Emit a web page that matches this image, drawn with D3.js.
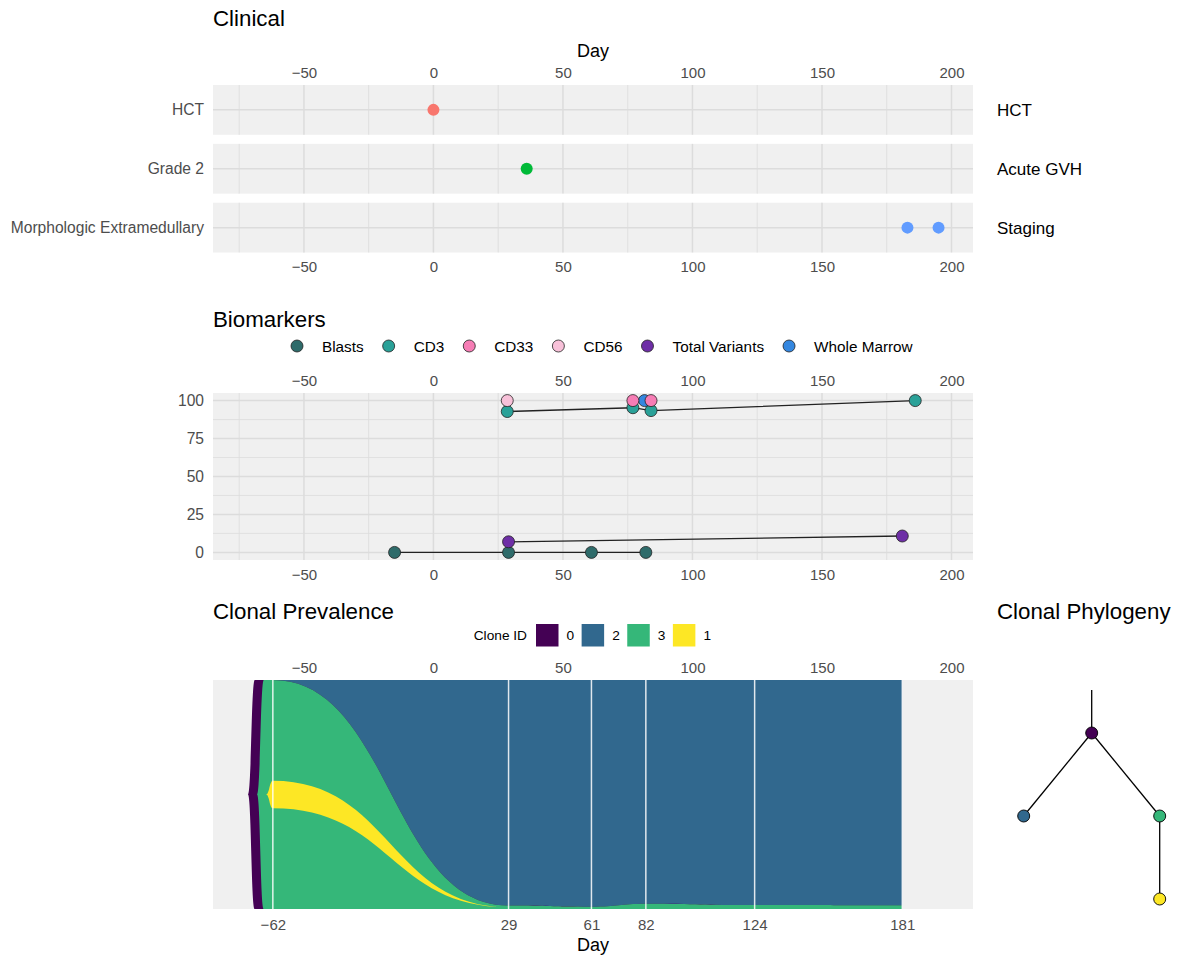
<!DOCTYPE html>
<html lang="en">
<head>
  <meta charset="UTF-8">
  <title>Patient timeline</title>
  <script src="https://d3js.org/d3.v7.min.js"></script>
  <style>
    body {
      margin: 0;
      background: white;
    }

    svg {
      width: 1177px;
      height: 957px;
      display: block;
    }
  </style>
</head>
<body>
  <svg></svg>

  <script>
    // ---- data ----
    const dayTicks = [-50, 0, 50, 100, 150, 200];

    const clinicalTracks = [`HCT`, `Acute GVH`, `Staging`];
    const clinicalEvents = [`HCT`, `Grade 2`, `Morphologic Extramedullary`];
    const clinicalDays = [[0], [36], [183, 195]];

    const markerNames = [`Blasts`, `CD3`, `CD33`, `CD56`, `Total Variants`, `Whole Marrow`];
    // [day, value]
    const blasts = [[-15, 0], [29, 0], [61, 0], [82, 0]];
    const cd3 = [[28.5, 92.8], [77, 95.3], [84, 93.4], [186, 100]];
    const cd33 = [[77, 100], [84, 100]];
    const cd56 = [[28.5, 100]];
    const totalVariants = [[29, 7], [181, 10.8]];
    const wholeMarrow = [[81.5, 100]];
    const markerTicks = [0, 25, 50, 75, 100];

    const sampleDays = [-62, 29, 61, 82, 124, 181];
    const cloneIds = [`0`, `2`, `3`, `1`];
    const cloneParents = [null, `0`, `0`, `3`];
    // own (non-descendant) fraction of each clone per sample
    const clone0 = [0, 0, 0, 0, 0, 0];
    const clone2 = [0, 0.985, 0.99, 0.977, 0.983, 0.984];
    const clone3 = [0.88, 0.015, 0.01, 0.023, 0.017, 0.016];
    const clone1 = [0.12, 0, 0, 0, 0, 0];

    // ---- styles ----
    const font = `"Liberation Sans", Arial, Helvetica, sans-serif`;
    const panelFill = `#F0F0F0`;
    const gridColor = `#DCDCDC`;
    const tickColor = `#4D4D4D`;
    const clinicalColors = [`#F8766D`, `#00BA38`, `#619CFF`];
    const markerColors = [`#2E6B6A`, `#2AA198`, `#F67DB5`, `#F8C1D9`, `#6E2FA6`, `#3487E0`];
    const cloneColors = {0: `#440154`, 2: `#31688E`, 3: `#35B779`, 1: `#FDE725`};

    const svg = d3.select(`svg`).attr(`font-family`, font);

    const x = d3.scaleLinear()
      .domain([-85.1, 208.3])
      .range([213, 973]);
    const minorDays = d3.pairs(dayTicks).map(p => (p[0] + p[1]) / 2).concat([-75]);

    const styleAxis = (g, size = 15) => {
      g.select(`.domain`).remove();
      g.attr(`font-family`, font).attr(`font-size`, size);
      g.selectAll(`text`).attr(`fill`, tickColor);
    };

    const drawPanel = (top, bottom, grid = true) => {
      svg.append(`rect`)
        .attr(`x`, x.range()[0])
        .attr(`y`, top)
        .attr(`width`, x.range()[1] - x.range()[0])
        .attr(`height`, bottom - top)
        .attr(`fill`, panelFill);
      if (!grid) return;
      svg.append(`g`).selectAll(`line`)
        .data(minorDays)
        .enter()
        .append(`line`)
        .attr(`x1`, d => x(d)).attr(`x2`, d => x(d))
        .attr(`y1`, top).attr(`y2`, bottom)
        .attr(`stroke`, gridColor)
        .attr(`stroke-width`, 0.8);
      svg.append(`g`).selectAll(`line`)
        .data(dayTicks)
        .enter()
        .append(`line`)
        .attr(`x1`, d => x(d)).attr(`x2`, d => x(d))
        .attr(`y1`, top).attr(`y2`, bottom)
        .attr(`stroke`, gridColor)
        .attr(`stroke-width`, 1.5);
    };

    const title = (text, tx, ty) => svg.append(`text`)
      .attr(`x`, tx).attr(`y`, ty)
      .attr(`font-size`, 22.3)
      .attr(`fill`, `black`)
      .text(text);

    // ---- Clinical ----
    title(`Clinical`, 213, 26);
    svg.append(`text`)
      .attr(`x`, (x.range()[0] + x.range()[1]) / 2)
      .attr(`y`, 56.5)
      .attr(`text-anchor`, `middle`)
      .attr(`font-size`, 18)
      .text(`Day`);

    const band = d3.scaleBand()
      .domain(clinicalTracks)
      .range([85, 252.5])
      .paddingInner(0.155);

    clinicalTracks.forEach((track, i) => {
      const top = band(track);
      const bottom = top + band.bandwidth();
      const mid = top + band.bandwidth() / 2;
      drawPanel(top, bottom);
      svg.append(`line`)
        .attr(`x1`, x.range()[0]).attr(`x2`, x.range()[1])
        .attr(`y1`, mid).attr(`y2`, mid)
        .attr(`stroke`, gridColor)
        .attr(`stroke-width`, 1.5);
      svg.append(`g`).selectAll(`circle`)
        .data(clinicalDays[i])
        .enter()
        .append(`circle`)
        .attr(`cx`, d => x(d))
        .attr(`cy`, mid)
        .attr(`r`, 6)
        .attr(`fill`, clinicalColors[i]);
      svg.append(`text`)
        .attr(`x`, 997)
        .attr(`y`, mid)
        .attr(`dy`, `0.36em`)
        .attr(`font-size`, 17)
        .text(track);
    });

    svg.append(`g`)
      .attr(`transform`, `translate(0, 85)`)
      .call(d3.axisTop(x).tickValues(dayTicks).tickSize(0).tickPadding(7))
      .call(styleAxis);
    svg.append(`g`)
      .attr(`transform`, `translate(0, 252.5)`)
      .call(d3.axisBottom(x).tickValues(dayTicks).tickSize(0).tickPadding(9))
      .call(styleAxis);
    svg.append(`g`)
      .attr(`transform`, `translate(213, 0)`)
      .call(d3.axisLeft(band).tickSize(0).tickPadding(9).tickFormat((d, i) => clinicalEvents[i]))
      .call(styleAxis, 15.6);

    // ---- Biomarkers ----
    title(`Biomarkers`, 213, 327);

    const yB = d3.scaleLinear()
      .domain([-5, 105])
      .range([560, 393]);

    drawPanel(393, 560);
    svg.append(`g`).selectAll(`line`)
      .data([12.5, 37.5, 62.5, 87.5])
      .enter()
      .append(`line`)
      .attr(`x1`, x.range()[0]).attr(`x2`, x.range()[1])
      .attr(`y1`, d => yB(d)).attr(`y2`, d => yB(d))
      .attr(`stroke`, gridColor)
      .attr(`stroke-width`, 0.8);
    svg.append(`g`).selectAll(`line`)
      .data(markerTicks)
      .enter()
      .append(`line`)
      .attr(`x1`, x.range()[0]).attr(`x2`, x.range()[1])
      .attr(`y1`, d => yB(d)).attr(`y2`, d => yB(d))
      .attr(`stroke`, gridColor)
      .attr(`stroke-width`, 1.5);

    const markerSeries = [blasts, cd3, cd33, cd56, totalVariants, wholeMarrow];
    const line = d3.line()
      .x(d => x(d[0]))
      .y(d => yB(d[1]));

    svg.append(`g`).selectAll(`path`)
      .data(markerSeries.filter(s => s.length > 1))
      .enter()
      .append(`path`)
      .attr(`d`, line)
      .attr(`fill`, `none`)
      .attr(`stroke`, `#222`)
      .attr(`stroke-width`, 1.3);

    const drawOrder = [0, 1, 5, 2, 3, 4];
    drawOrder.forEach(k => {
      svg.append(`g`).selectAll(`circle`)
        .data(markerSeries[k])
        .enter()
        .append(`circle`)
        .attr(`cx`, d => x(d[0]))
        .attr(`cy`, d => yB(d[1]))
        .attr(`r`, 6)
        .attr(`fill`, markerColors[k])
        .attr(`stroke`, `#222`)
        .attr(`stroke-width`, 0.8);
    });

    svg.append(`g`)
      .attr(`transform`, `translate(0, 393)`)
      .call(d3.axisTop(x).tickValues(dayTicks).tickSize(0).tickPadding(7))
      .call(styleAxis);
    svg.append(`g`)
      .attr(`transform`, `translate(0, 560)`)
      .call(d3.axisBottom(x).tickValues(dayTicks).tickSize(0).tickPadding(9))
      .call(styleAxis);
    svg.append(`g`)
      .attr(`transform`, `translate(213, 0)`)
      .call(d3.axisLeft(yB).tickValues(markerTicks).tickSize(0).tickPadding(9))
      .call(styleAxis, 15.6);

    // legend
    let lx = 297;
    markerNames.forEach((name, k) => {
      svg.append(`circle`)
        .attr(`cx`, lx).attr(`cy`, 346)
        .attr(`r`, 6)
        .attr(`fill`, markerColors[k])
        .attr(`stroke`, `#222`)
        .attr(`stroke-width`, 0.8);
      const t = svg.append(`text`)
        .attr(`x`, lx + 25).attr(`y`, 346)
        .attr(`dy`, `0.36em`)
        .attr(`font-size`, 15.3)
        .text(name);
      lx += 25 + t.node().getComputedTextLength() + 25;
    });

    // ---- Clonal Prevalence ----
    title(`Clonal Prevalence`, 213, 619);

    const yF = d3.scaleLinear()
      .domain([0, 1])
      .range([680, 909]);

    drawPanel(680, 909, false);

    const cloneTable = cloneIds.map((id, k) => ({
      id,
      parent: cloneParents[k],
      frac: [clone0, clone2, clone3, clone1][k],
    }));
    const root = d3.stratify()
      .id(d => d.id)
      .parentId(d => d.parent)(cloneTable);

    root.eachAfter(n => {
      n.tot = sampleDays.map((_, i) => n.data.frac[i] + d3.sum(n.children || [], c => c.tot[i]));
      n.top = [];
      n.bot = [];
    });
    const place = (n, i, top) => {
      n.top[i] = top;
      n.bot[i] = top + n.tot[i];
      const kids = n.children || [];
      const gap = n.data.frac[i] / (kids.length + 1);
      let pos = top + gap;
      kids.forEach(c => {
        place(c, i, pos);
        pos += c.tot[i] + gap;
      });
    };
    sampleDays.forEach((_, i) => place(root, i, 0));

    const maxDepth = d3.max(root.descendants(), d => d.depth);
    const area = d3.area()
      .x(d => x(d.day))
      .y0(d => yF(d.y0))
      .y1(d => yF(d.y1))
      .curve(d3.curveBumpX);

    root.descendants().forEach(n => {
      const tip = sampleDays[0] - 2.6 - 3.5 * (maxDepth - n.depth);
      const mid = (n.top[0] + n.bot[0]) / 2;
      const pts = [{day: tip, y0: mid, y1: mid}];
      if (tip + 2.6 < sampleDays[0]) pts.push({day: tip + 2.6, y0: n.top[0], y1: n.bot[0]});
      sampleDays.forEach((day, i) => pts.push({day, y0: n.top[i], y1: n.bot[i]}));
      svg.append(`path`)
        .attr(`d`, area(pts))
        .attr(`fill`, cloneColors[n.id]);
    });

    svg.append(`g`).selectAll(`line`)
      .data(sampleDays)
      .enter()
      .append(`line`)
      .attr(`x1`, d => x(d)).attr(`x2`, d => x(d))
      .attr(`y1`, 680).attr(`y2`, 909)
      .attr(`stroke`, `white`)
      .attr(`stroke-opacity`, 0.85)
      .attr(`stroke-width`, 1.5);

    svg.append(`g`)
      .attr(`transform`, `translate(0, 680)`)
      .call(d3.axisTop(x).tickValues(dayTicks).tickSize(0).tickPadding(7))
      .call(styleAxis);
    svg.append(`g`)
      .attr(`transform`, `translate(0, 909)`)
      .call(d3.axisBottom(x).tickValues(sampleDays).tickSize(0).tickPadding(10))
      .call(styleAxis);
    svg.append(`text`)
      .attr(`x`, (x.range()[0] + x.range()[1]) / 2)
      .attr(`y`, 950.5)
      .attr(`text-anchor`, `middle`)
      .attr(`font-size`, 18)
      .text(`Day`);

    // clone legend
    svg.append(`text`)
      .attr(`x`, 527).attr(`y`, 635)
      .attr(`dy`, `0.36em`)
      .attr(`text-anchor`, `end`)
      .attr(`font-size`, 13.7)
      .text(`Clone ID`);
    let cx = 536;
    cloneIds.forEach(id => {
      svg.append(`rect`)
        .attr(`x`, cx).attr(`y`, 624)
        .attr(`width`, 22.5).attr(`height`, 22.5)
        .attr(`fill`, cloneColors[id]);
      const t = svg.append(`text`)
        .attr(`x`, cx + 30.5).attr(`y`, 635)
        .attr(`dy`, `0.36em`)
        .attr(`font-size`, 13.7)
        .text(id);
      cx += 30.5 + t.node().getComputedTextLength() + 7.5;
    });

    // ---- Clonal Phylogeny ----
    title(`Clonal Phylogeny`, 997, 619);

    const tree = d3.tree().nodeSize([136, 83])(root.copy());
    const phylo = svg.append(`g`).attr(`transform`, `translate(1091.7, 733)`);

    phylo.append(`line`)
      .attr(`x1`, tree.x).attr(`x2`, tree.x)
      .attr(`y1`, -43).attr(`y2`, 0)
      .attr(`stroke`, `black`)
      .attr(`stroke-width`, 1.3);
    phylo.selectAll(`.edge`)
      .data(tree.links())
      .enter()
      .append(`line`)
      .attr(`class`, `edge`)
      .attr(`x1`, d => d.source.x).attr(`y1`, d => d.source.y)
      .attr(`x2`, d => d.target.x).attr(`y2`, d => d.target.y)
      .attr(`stroke`, `black`)
      .attr(`stroke-width`, 1.3);
    phylo.selectAll(`circle`)
      .data(tree.descendants())
      .enter()
      .append(`circle`)
      .attr(`cx`, d => d.x)
      .attr(`cy`, d => d.y)
      .attr(`r`, 6)
      .attr(`fill`, d => cloneColors[d.data.id])
      .attr(`stroke`, `black`)
      .attr(`stroke-width`, 0.9);
  </script>
</body>
</html>
